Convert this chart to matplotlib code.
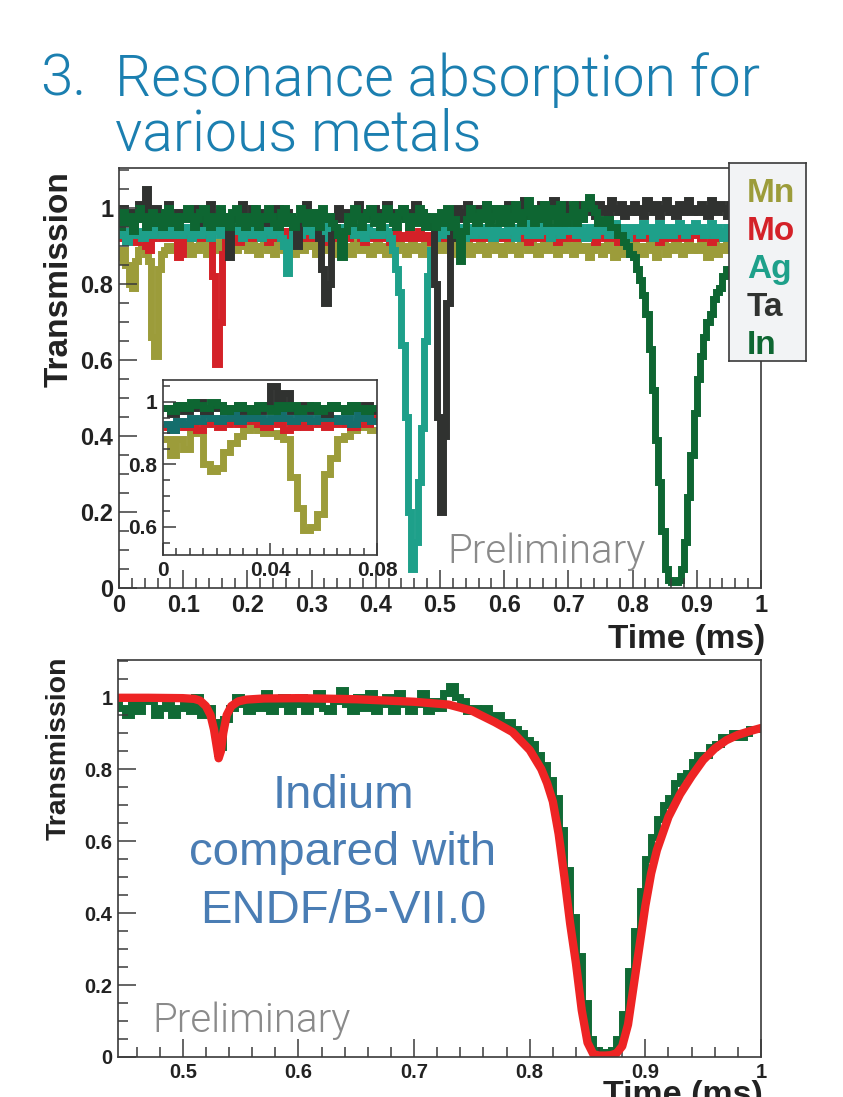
import numpy as np
import matplotlib
matplotlib.use("Agg")
import matplotlib.pyplot as plt
from matplotlib.ticker import MultipleLocator, FixedLocator, FuncFormatter

W, H = 843, 1097

plt.rcParams["font.family"] = ["Liberation Sans", "DejaVu Sans"]

# ---- data: transmission (%) in 0.005 ms bins, 0 - 1 ms ----
edges = np.linspace(0.0, 1.0, 201)

mn = np.array([
    86, 89, 85, 80, 79, 86, 89, 90, 88, 86, 66, 61, 84, 88, 89, 90, 89, 90, 91, 89,
    90, 91, 88, 90, 89, 91, 90, 88, 91, 90, 89, 91, 90, 88, 90, 91, 89, 90, 92, 90,
    89, 91, 90, 88, 90, 91, 89, 90, 88, 91, 90, 89, 91, 90, 88, 90, 91, 89, 90, 91,
    90, 88, 91, 90, 89, 90, 91, 88, 90, 91, 89, 90, 88, 91, 90, 89, 91, 90, 88, 90,
    91, 89, 90, 88, 91, 90, 89, 91, 90, 88, 90, 91, 89, 90, 88, 91, 90, 89, 91, 90,
    89, 91, 90, 88, 90, 91, 89, 90, 91, 88, 90, 89, 91, 90, 88, 90, 91, 89, 90, 88,
    90, 91, 89, 90, 88, 91, 90, 89, 91, 90, 88, 90, 91, 89, 90, 91, 88, 90, 89, 91,
    90, 88, 91, 90, 89, 90, 87, 89, 91, 90, 88, 90, 91, 89, 87, 90, 91, 88, 90, 89,
    91, 89, 90, 88, 90, 91, 89, 87, 90, 91, 88, 90, 89, 91, 90, 88, 90, 91, 89, 90,
    89, 91, 90, 87, 90, 91, 88, 90, 89, 91, 90, 88, 90, 91, 89, 90, 88, 91, 90, 89,
]) / 100

mo = np.array([
    93, 92, 94, 92, 93, 91, 92, 93, 90, 89, 92, 94, 93, 92, 94, 93, 92, 93, 87, 88,
    92, 94, 93, 92, 93, 94, 92, 93, 92, 82, 59, 70, 88, 93, 92, 94, 93, 91, 93, 92,
    94, 93, 92, 93, 94, 92, 91, 93, 94, 92, 93, 92, 94, 93, 91, 93, 94, 92, 93, 94,
    92, 93, 94, 91, 93, 92, 94, 93, 92, 93, 94, 92, 93, 93, 94, 92, 91, 94, 93, 92,
    93, 94, 92, 93, 91, 93, 94, 92, 93, 92, 94, 93, 92, 94, 93, 92, 93, 91, 93, 94,
    92, 93, 94, 92, 93, 94, 91, 93, 92, 94, 93, 92, 93, 94, 92, 93, 94, 92, 93, 92,
    94, 92, 93, 93, 94, 92, 93, 91, 94, 93, 92, 93, 94, 92, 93, 94, 91, 93, 92, 94,
    93, 92, 94, 93, 92, 93, 94, 92, 91, 94, 93, 92, 93, 94, 92, 91, 93, 94, 93, 92,
    92, 94, 93, 92, 93, 94, 92, 93, 91, 92, 94, 93, 92, 93, 94, 92, 93, 92, 94, 93,
    93, 92, 94, 93, 91, 93, 94, 92, 93, 94, 92, 93, 92, 94, 93, 92, 93, 94, 93, 92,
]) / 100

ag = np.array([
    95, 93, 91, 94, 96, 93, 94, 92, 95, 94, 93, 95, 96, 93, 94, 95, 93, 96, 94, 93,
    95, 94, 92, 95, 94, 93, 96, 94, 92, 94, 95, 93, 94, 96, 93, 94, 95, 94, 92, 95,
    94, 93, 96, 94, 92, 95, 94, 93, 95, 94, 92, 90, 83, 91, 94, 95, 93, 94, 96, 94,
    93, 95, 94, 92, 95, 96, 93, 94, 95, 93, 94, 96, 94, 93, 95, 94, 92, 95, 94, 93,
    94, 93, 95, 94, 92, 89, 84, 78, 64, 45, 20, 5, 12, 28, 42, 65, 82, 89, 92, 94,
    95, 93, 94, 96, 93, 94, 95, 92, 94, 95, 93, 96, 94, 93, 95, 94, 92, 95, 94, 93,
    93, 95, 94, 92, 95, 94, 96, 93, 94, 95, 93, 94, 96, 94, 92, 95, 94, 93, 95, 94,
    94, 96, 93, 95, 94, 92, 95, 94, 93, 96, 94, 95, 93, 94, 96, 93, 95, 94, 92, 95,
    95, 94, 93, 96, 94, 95, 92, 94, 96, 93, 95, 94, 93, 95, 96, 94, 93, 95, 94, 96,
    94, 95, 93, 94, 96, 93, 95, 94, 92, 95, 94, 96, 93, 95, 94, 93, 95, 96, 94, 95,
]) / 100

ta = np.array([
    98, 100, 97, 99, 96, 98, 101, 97, 105, 98, 96, 100, 98, 97, 99, 101, 98, 96, 99, 98,
    99, 97, 98, 100, 96, 99, 98, 97, 101, 98, 97, 99, 96, 98, 87, 97, 99, 98, 101, 97,
    98, 100, 97, 99, 98, 96, 99, 97, 98, 100, 98, 97, 99, 98, 96, 90, 97, 99, 101, 98,
    97, 99, 92, 84, 75, 80, 93, 98, 100, 97, 99, 98, 96, 99, 101, 98, 97, 99, 98, 100,
    98, 97, 99, 101, 98, 97, 99, 98, 100, 97, 99, 98, 101, 97, 99, 98, 97, 95, 80, 45,
    20, 40, 75, 92, 98, 100, 97, 99, 101, 98, 97, 100, 99, 98, 101, 97, 99, 100, 98, 97,
    99, 101, 98, 100, 97, 99, 102, 98, 100, 99, 97, 101, 99, 98, 100, 102, 98, 99, 101, 98,
    100, 98, 101, 99, 97, 100, 102, 99, 98, 101, 99, 100, 98, 102, 100, 99, 101, 98, 100, 99,
    101, 99, 100, 98, 102, 100, 99, 101, 98, 100, 102, 99, 100, 98, 101, 99, 100, 102, 99, 100,
    99, 101, 100, 98, 102, 100, 99, 101, 100, 98, 101, 99, 100, 102, 99, 100, 101, 99, 100, 98,
]) / 100

ind = np.array([
    95, 99, 96, 98, 94, 97, 100, 98, 95, 97, 99, 96, 98, 95, 99, 100, 96, 98, 95, 98,
    97, 100, 98, 95, 97, 99, 100, 96, 95, 98, 96, 100, 98, 96, 95, 99, 100, 96, 98, 95,
    98, 96, 100, 95, 98, 97, 100, 98, 96, 95, 99, 100, 96, 98, 95, 97, 100, 98, 96, 99,
    96, 99, 95, 100, 97, 98, 96, 95, 93, 87, 94, 98, 96, 100, 98, 95, 97, 99, 100, 96,
    98, 95, 97, 100, 98, 96, 95, 99, 100, 97, 95, 98, 96, 100, 99, 95, 97, 98, 95, 97,
    99, 96, 100, 95, 97, 93, 86, 94, 97, 100, 98, 96, 99, 97, 101, 96, 98, 100, 96, 98,
    100, 96, 98, 101, 97, 96, 99, 102, 98, 96, 100, 97, 101, 96, 98, 100, 96, 101, 98, 96,
    98, 101, 96, 99, 97, 101, 103, 100, 99, 96, 97, 96, 97, 95, 95, 93, 93, 91, 90, 88,
    87, 84, 81, 77, 72, 63, 52, 39, 28, 15, 5, 2, 1.5, 1.5, 2, 5, 12, 24, 35, 46,
    55, 61, 66, 70, 72, 76, 78, 79, 82, 84, 84, 86, 87, 89, 89, 90, 89, 90, 91, 91,
]) / 100

# ---- inset: 0.0025 ms bins, 0 - 0.08 ms ----
edges_in = np.linspace(0.0, 0.08, 33)
mn_in = np.array([88, 83, 88, 85, 90, 91, 80, 78, 79, 84, 87, 89, 91, 92, 91, 90,
                  90, 89, 88, 76, 66, 59, 60, 64, 77, 82, 88, 89, 91, 92, 93, 91]) / 100
mo_in = np.array([92, 91, 93, 92, 94, 91, 93, 94, 92, 93, 94, 93, 95, 94, 93, 92,
                  94, 93, 91, 92, 93, 92, 94, 93, 92, 93, 94, 93, 92, 94, 93, 95]) / 100
ag_in = np.array([93, 91, 94, 93, 95, 94, 96, 95, 94, 95, 96, 94, 95, 96, 95, 94,
                  95, 96, 95, 94, 96, 95, 94, 95, 96, 95, 94, 95, 93, 96, 95, 94]) / 100
ta_in = np.array([98, 96, 99, 97, 98, 100, 97, 98, 99, 97, 98, 99, 97, 98, 97, 99,
                  105, 98, 103, 97, 98, 99, 97, 98, 96, 99, 98, 97, 99, 98, 99, 97]) / 100
in_in = np.array([98, 97, 99, 98, 100, 99, 98, 100, 99, 97, 98, 99, 98, 97, 99, 98,
                  97, 99, 98, 99, 97, 98, 99, 97, 98, 99, 98, 97, 99, 98, 97, 98]) / 100

# ---- ENDF/B-VII.0 indium curve ----
fit_t = [0.444, 0.47, 0.50, 0.51, 0.515, 0.52, 0.524, 0.527, 0.529, 0.531, 0.533,
         0.535, 0.538, 0.542, 0.548, 0.555, 0.57, 0.60, 0.65, 0.70, 0.73, 0.75,
         0.77, 0.785, 0.80, 0.81, 0.815, 0.82, 0.825, 0.83, 0.835, 0.84, 0.845,
         0.85, 0.855, 0.86, 0.865, 0.87, 0.875, 0.88, 0.885, 0.89, 0.895, 0.90,
         0.905, 0.91, 0.92, 0.93, 0.94, 0.95, 0.96, 0.97, 0.98, 0.99, 1.0]
fit_y = [0.998, 0.998, 0.997, 0.995, 0.99, 0.975, 0.95, 0.91, 0.87, 0.83, 0.85,
         0.90, 0.95, 0.975, 0.988, 0.993, 0.996, 0.997, 0.994, 0.987, 0.979, 0.962,
         0.93, 0.903, 0.853, 0.80, 0.761, 0.71, 0.62, 0.50, 0.37, 0.26, 0.13,
         0.04, 0.008, 0.004, 0.004, 0.005, 0.01, 0.03, 0.09, 0.20, 0.31, 0.42,
         0.51, 0.575, 0.667, 0.73, 0.78, 0.825, 0.857, 0.88, 0.895, 0.905, 0.914]

names = ["Mn", "Mo", "Ag", "Ta", "In"]
colors = ["#9c9c3a", "#d42128", "#1ea08a", "#303230", "#0e6632"]
inset_colors = ["#9c9c3a", "#d42128", "#146e6c", "#303230", "#0e6632"]

TITLE_C = "#1b7fb0"
GREY = "#8a8a8a"
NOTE_C = "#4a7db4"
FRAME = "#3a3a3a"
LIGHT = ["Roboto", "DejaVu Sans"]


def fx(x):
    return x / W


def fy(y):
    return 1 - y / H


def fmt(v, _):
    return f"{round(v, 4):g}"


def style(ax, size, xmaj, xmin, ymaj, ymin):
    for s in ax.spines.values():
        s.set_color(FRAME)
        s.set_linewidth(1.2)
    ax.xaxis.set_major_locator(xmaj)
    ax.xaxis.set_minor_locator(MultipleLocator(xmin))
    ax.yaxis.set_major_locator(ymaj)
    ax.yaxis.set_minor_locator(MultipleLocator(ymin))
    ax.xaxis.set_major_formatter(FuncFormatter(fmt))
    ax.yaxis.set_major_formatter(FuncFormatter(fmt))
    ax.tick_params(which="both", direction="in", top=False, right=False,
                   color=FRAME, width=1.1)
    ax.tick_params(which="major", length=13, labelsize=size, pad=4)
    ax.tick_params(which="minor", length=7)
    for lab in ax.get_xticklabels() + ax.get_yticklabels():
        lab.set_fontweight("bold")
        lab.set_color("#222222")


fig = plt.figure(figsize=(W / 100, H / 100), dpi=100)

# title
fig.text(fx(40), fy(96), "3.", color=TITLE_C, fontsize=42,
         family=LIGHT, fontweight=300, va="baseline")
fig.text(fx(115), fy(96), "Resonance absorption for", color=TITLE_C, fontsize=41,
         family=LIGHT, fontweight=300, va="baseline")
fig.text(fx(115), fy(150), "various metals", color=TITLE_C, fontsize=41,
         family=LIGHT, fontweight=300, va="baseline")

# ---- top panel ----
ax = fig.add_axes([fx(119), fy(588), 642 / W, 420 / H])
for vals, c in zip([mn, mo, ag, ta, ind], colors):
    ax.stairs(vals, edges, baseline=None, color=c, lw=5)
ax.set_xlim(0, 1)
ax.set_ylim(0, 1.105)
style(ax, 17, MultipleLocator(0.1), 0.02, MultipleLocator(0.2), 0.05)

fig.text(fx(59), fy(279), "Transmission", rotation=90, ha="center", va="center",
         fontsize=24, fontweight="bold", color="#222222")
fig.text(fx(765), fy(648), "Time (ms)", ha="right", va="baseline",
         fontsize=24, fontweight="bold", color="#222222")
fig.text(fx(447), fy(563), "Preliminary", color=GREY, fontsize=29,
         family=LIGHT, fontweight=300, va="baseline")

# inset
axi = fig.add_axes([fx(163), fy(555), 214 / W, 175 / H])
axi.set_facecolor("white")
for vals, c in zip([mn_in, mo_in, ag_in, ta_in, in_in], inset_colors):
    axi.stairs(vals, edges_in, baseline=None, color=c, lw=5)
axi.set_xlim(0, 0.08)
axi.set_ylim(0.51, 1.07)
style(axi, 15, FixedLocator([0, 0.04, 0.08]), 0.005, FixedLocator([0.6, 0.8, 1.0]), 0.05)
axi.tick_params(which="major", length=9)
axi.tick_params(which="minor", length=5)

# legend box
lax = fig.add_axes([fx(729), fy(361), 77 / W, 198 / H])
lax.set_facecolor("#f2f3f5")
lax.set_xticks([])
lax.set_yticks([])
for s in lax.spines.values():
    s.set_color(FRAME)
    s.set_linewidth(1.2)
for k, (name, c) in enumerate(zip(names, colors)):
    fig.text(fx(747), fy(202 + 38 * k), name, color=c, fontsize=24,
             fontweight="bold", va="baseline")

# ---- bottom panel ----
bx = fig.add_axes([fx(118), fy(1057), 643 / W, 397 / H])
bx.stairs(ind, edges, baseline=None, color="#106a35", lw=5)
bx.plot(fit_t, fit_y, color="#ee2424", lw=6, solid_joinstyle="round",
        solid_capstyle="round")
bx.set_xlim(0.444, 1.0)
bx.set_ylim(0, 1.103)
style(bx, 14.5, FixedLocator([0.5, 0.6, 0.7, 0.8, 0.9, 1.0]), 0.02,
      MultipleLocator(0.2), 0.05)

fig.text(fx(59), fy(748), "Transmission", rotation=90, ha="center", va="center",
         fontsize=20.5, fontweight="bold", color="#222222")
fig.text(fx(763), fy(1104), "Time (ms)", ha="right", va="baseline",
         fontsize=24.5, fontweight="bold", color="#222222")
fig.text(fx(152), fy(1032), "Preliminary", color=GREY, fontsize=29,
         family=LIGHT, fontweight=300, va="baseline")

for line, base in [("Indium", 808), ("compared with", 865), ("ENDF/B-VII.0", 923)]:
    fig.text(fx(343), fy(base), line, color=NOTE_C, fontsize=34,
             ha="center", va="baseline")

fig.savefig("out.png", dpi=100)
